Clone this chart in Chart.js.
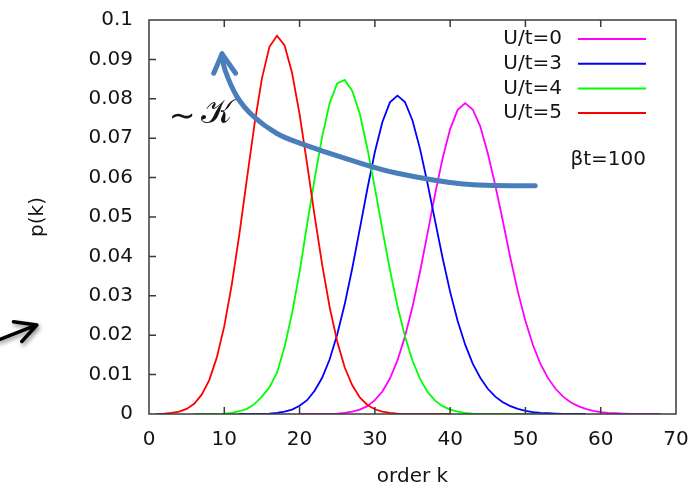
<!DOCTYPE html>
<html>
<head>
<meta charset="utf-8">
<script src="https://cdn.jsdelivr.net/npm/chart.js@4.4.1/dist/chart.umd.min.js"></script>
<style>
  html, body { margin: 0; padding: 0; background: #fff; }
  canvas { display: block; }
</style>
</head>
<body>
<canvas id="pk" width="698" height="485"></canvas>
<script>
// p(k) for each interaction strength, one value per integer order k
const seriesLabels = ['U/t=0', 'U/t=3', 'U/t=4', 'U/t=5'];
const seriesColors = ['#ff00ff', '#0000ff', '#00ff00', '#ff0000'];
const firstK = [20, 12, 6, 1];

const pU0 = [0, 0, 0, 0, 0, 0.0001, 0.0003, 0.0006, 0.0011, 0.0020, 0.0035, 0.0057, 0.0090, 0.0136,
  0.0197, 0.0272, 0.0361, 0.0459, 0.0558, 0.0649, 0.0723, 0.0772, 0.0789, 0.0773, 0.0730, 0.0662,
  0.0580, 0.0490, 0.0396, 0.0310, 0.0236, 0.0175, 0.0127, 0.0091, 0.0064, 0.0044, 0.0030, 0.0020,
  0.0013, 0.0008, 0.0005, 0.0003, 0.0002, 0.0001, 0, 0, 0, 0, 0];
const pU3 = [0, 0, 0, 0, 0.0001, 0.0003, 0.0006, 0.0011, 0.0021, 0.0035, 0.0059, 0.0092, 0.0139,
  0.0202, 0.0279, 0.0370, 0.0470, 0.0571, 0.0665, 0.0741, 0.0791, 0.0808, 0.0792, 0.0745, 0.0673,
  0.0585, 0.0490, 0.0396, 0.0310, 0.0236, 0.0176, 0.0128, 0.0092, 0.0064, 0.0044, 0.0030, 0.0020,
  0.0013, 0.0008, 0.0005, 0.0003, 0.0002, 0.0001, 0, 0, 0, 0];
const pU4 = [0, 0, 0, 0, 0.0001, 0.0003, 0.0007, 0.0013, 0.0025, 0.0044, 0.0068, 0.0105, 0.0170,
  0.0255, 0.0360, 0.0481, 0.0597, 0.0704, 0.0789, 0.0839, 0.0848, 0.0820, 0.0762, 0.0674, 0.0574,
  0.0468, 0.0366, 0.0274, 0.0197, 0.0135, 0.0089, 0.0056, 0.0034, 0.0020, 0.0011, 0.0006, 0.0003,
  0.0001, 0, 0, 0, 0, 0, 0, 0, 0, 0];
const pU5 = [0, 0.0001, 0.0003, 0.0006, 0.0013, 0.0026, 0.0049, 0.0086, 0.0143, 0.0223, 0.0329,
  0.0456, 0.0596, 0.0734, 0.0852, 0.0932, 0.0960, 0.0936, 0.0866, 0.0761, 0.0635, 0.0503, 0.0379,
  0.0271, 0.0184, 0.0118, 0.0073, 0.0042, 0.0023, 0.0012, 0.0006, 0.0003, 0.0001, 0, 0, 0, 0, 0, 0, 0];
const seriesValues = [pU0, pU3, pU4, pU5];

const xTicks = [0, 10, 20, 30, 40, 50, 60, 70];
const yTickLabels = ['0', '0.01', '0.02', '0.03', '0.04', '0.05', '0.06', '0.07', '0.08', '0.09', '0.1'];

// annotation arrows, in (k, p) units
const bigArrow = [[51.3, 0.0579], [41.7, 0.0584], [33.0, 0.0611], [26.7, 0.0645], [20.1, 0.0687],
  [17.0, 0.0712], [13.9, 0.0755], [11.7, 0.0805], [10.1, 0.0873], [9.7, 0.0914]];
const bigArrowHead = [[8.6, 0.0865], [9.7, 0.0914], [11.5, 0.0865]];
const sideArrow = [[-20.0, 0.0188], [-14.9, 0.0226]];
const sideArrowHead = [[-18.0, 0.0234], [-14.9, 0.0226], [-16.9, 0.0184]];

const FONT = 'DejaVu Sans';
const TEXT = '#141414';
const FRAME = '#3a3a3a';

// where the plot box should sit on the canvas
const box = { left: 149, top: 20, right: 676, bottom: 414 };
let xAxisHeight = 71;
let yAxisWidth = 149;

const datasets = seriesValues.map((vals, i) => ({
  label: seriesLabels[i],
  data: vals.map((p, j) => ({ x: firstK[i] + j, y: p })),
  borderColor: seriesColors[i],
  borderWidth: 1.8,
  pointRadius: 0,
  tension: 0,
  fill: false,
  order: seriesValues.length - i
}));

// labels may hang past the box; let the layout padding alone decide the margins
function noOverhang(s) {
  s.paddingLeft = s.paddingRight = s.paddingTop = s.paddingBottom = 0;
}

function smoothPath(ctx, pts) {
  ctx.moveTo(pts[0][0], pts[0][1]);
  for (let i = 0; i < pts.length - 1; i++) {
    const p0 = pts[Math.max(i - 1, 0)];
    const p1 = pts[i];
    const p2 = pts[i + 1];
    const p3 = pts[Math.min(i + 2, pts.length - 1)];
    ctx.bezierCurveTo(
      p1[0] + (p2[0] - p0[0]) / 6, p1[1] + (p2[1] - p0[1]) / 6,
      p2[0] - (p3[0] - p1[0]) / 6, p2[1] - (p3[1] - p1[1]) / 6,
      p2[0], p2[1]);
  }
}

function polyPath(ctx, pts) {
  pts.forEach(([u, v], i) => (i ? ctx.lineTo(u, v) : ctx.moveTo(u, v)));
}

const frameAndNotes = {
  id: 'frameAndNotes',
  afterDraw(chart) {
    const { ctx, chartArea: a, scales: { x, y } } = chart;
    const px = pts => pts.map(([k, p]) => [x.getPixelForValue(k), y.getPixelForValue(p)]);
    ctx.save();

    // box and inward ticks
    ctx.strokeStyle = FRAME;
    ctx.lineWidth = 1.5;
    ctx.strokeRect(a.left, a.top, a.right - a.left, a.bottom - a.top);
    ctx.beginPath();
    x.ticks.forEach(t => {
      const xp = x.getPixelForValue(t.value);
      if (xp <= a.left + 1 || xp >= a.right - 1) return;
      ctx.moveTo(xp, a.bottom); ctx.lineTo(xp, a.bottom - 7);
      ctx.moveTo(xp, a.top); ctx.lineTo(xp, a.top + 7);
    });
    y.ticks.forEach(t => {
      const yp = y.getPixelForValue(t.value);
      if (yp <= a.top + 1 || yp >= a.bottom - 1) return;
      ctx.moveTo(a.left, yp); ctx.lineTo(a.left + 7, yp);
    });
    ctx.stroke();

    // legend: label, then a line sample
    ctx.font = `20px "${FONT}"`;
    ctx.fillStyle = TEXT;
    ctx.textBaseline = 'middle';
    seriesLabels.forEach((lab, i) => {
      const yy = a.top + 19 + i * 24.7;
      ctx.textAlign = 'right';
      ctx.fillText(lab, a.right - 114, yy);
      ctx.strokeStyle = seriesColors[i];
      ctx.lineWidth = 2;
      ctx.beginPath();
      ctx.moveTo(a.right - 98, yy);
      ctx.lineTo(a.right - 30, yy);
      ctx.stroke();
    });
    ctx.textAlign = 'right';
    ctx.fillText('\u03b2t=100', a.right - 30, a.top + 140);

    // ~ K label
    ctx.textAlign = 'center';
    ctx.font = '32px "DejaVu Sans"';
    ctx.fillText('\u223c', x.getPixelForValue(4.4), y.getPixelForValue(0.0752));
    ctx.font = '34px "DejaVu Serif"';
    ctx.fillText('\ud835\udca6', x.getPixelForValue(9.0), y.getPixelForValue(0.0761));

    // curved arrow
    ctx.strokeStyle = '#4a7ebb';
    ctx.lineWidth = 5;
    ctx.lineCap = 'round';
    ctx.lineJoin = 'round';
    ctx.beginPath();
    smoothPath(ctx, px(bigArrow));
    ctx.stroke();
    ctx.beginPath();
    polyPath(ctx, px(bigArrowHead));
    ctx.stroke();

    // small black arrow at the left edge
    ctx.shadowColor = 'rgba(0,0,0,0.45)';
    ctx.shadowBlur = 4;
    ctx.shadowOffsetX = 1.5;
    ctx.shadowOffsetY = 2.5;
    ctx.strokeStyle = '#000';
    ctx.lineWidth = 3.5;
    ctx.beginPath();
    polyPath(ctx, px(sideArrow));
    polyPath(ctx, px(sideArrowHead));
    ctx.stroke();
    ctx.restore();
  }
};

const chart = new Chart(document.getElementById('pk'), {
  type: 'line',
  data: { datasets },
  options: {
    responsive: false,
    animation: false,
    devicePixelRatio: 1,
    layout: { padding: { top: 20, right: 22, left: 0, bottom: 0 } },
    plugins: { legend: { display: false }, tooltip: { enabled: false } },
    scales: {
      x: {
        type: 'linear',
        min: 0,
        max: 70,
        afterBuildTicks: s => { s.ticks = xTicks.map(v => ({ value: v })); },
        afterFit: s => { s.height = xAxisHeight; noOverhang(s); },
        ticks: { font: { family: FONT, size: 20 }, color: TEXT, padding: 14, maxRotation: 0,
          callback: v => String(v) },
        grid: { display: false, drawTicks: false },
        border: { display: false },
        title: { display: true, text: 'order k', color: TEXT,
          font: { family: FONT, size: 20, lineHeight: 0.8 },
          padding: { top: 0, bottom: 0 } }
      },
      y: {
        min: 0,
        max: 0.1,
        afterBuildTicks: s => { s.ticks = yTickLabels.map((_, i) => ({ value: i / 100 })); },
        afterFit: s => { s.width = yAxisWidth; noOverhang(s); },
        ticks: { font: { family: FONT, size: 20 }, color: TEXT, padding: 16,
          callback: (v, i) => yTickLabels[i] },
        grid: { display: false, drawTicks: false },
        border: { display: false },
        title: { display: true, text: 'p(k)', color: TEXT, font: { family: FONT, size: 20 },
          padding: { top: 26, bottom: 0 } }
      }
    }
  },
  plugins: [frameAndNotes]
});

// nudge paddings so the plot box lands where it should
for (let pass = 0; pass < 2; pass++) {
  const ca = chart.chartArea;
  const pad = chart.options.layout.padding;
  pad.top += box.top - ca.top;
  pad.right += ca.right - box.right;
  xAxisHeight += ca.bottom - box.bottom;
  yAxisWidth += box.left - ca.left;
  chart.update();
}
</script>
</body>
</html>
